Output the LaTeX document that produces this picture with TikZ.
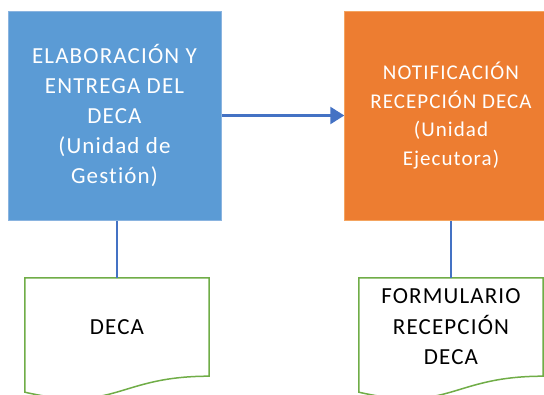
\documentclass[tikz,border=0pt]{standalone}
\usepackage{fontspec}
\setmainfont{Carlito}[Ligatures=CommonOff,LetterSpace=5]
\usepackage{color}
\usepackage{tikz}
\usetikzlibrary{arrows.meta,calc}
\pgfdeclarelayer{edgelayer}
\pgfdeclarelayer{nodelayer}
\pgfsetlayers{edgelayer,nodelayer,main}
\definecolor{hexcolor0x5b9bd5}{rgb}{0.357,0.608,0.835}
\definecolor{hexcolor0x8ab4e0}{rgb}{0.541,0.706,0.878}
\definecolor{hexcolor0xed7d31}{rgb}{0.929,0.490,0.192}
\definecolor{hexcolor0xf4a460}{rgb}{0.957,0.643,0.376}
\definecolor{hexcolor0x4472c4}{rgb}{0.267,0.447,0.769}
\definecolor{hexcolor0x70ad47}{rgb}{0.439,0.678,0.278}
\definecolor{myblack}{rgb}{0.000,0.000,0.000}
\definecolor{mywhite}{rgb}{1.000,1.000,1.000}
\tikzstyle{setA}=[rectangle,fill=hexcolor0x5b9bd5,draw=hexcolor0x8ab4e0,minimum width=213,minimum height=209,text=mywhite,align=center,font=\fontsize{23}{30}\selectfont]
\tikzstyle{setB}=[rectangle,fill=hexcolor0xed7d31,draw=hexcolor0xf4a460,minimum width=213,minimum height=209,text=mywhite,align=center,font=\fontsize{21}{28.5}\selectfont]
\tikzstyle{doc}=[rectangle,minimum width=184,minimum height=98,text=myblack,align=center,font=\fontsize{23}{30.5}\selectfont]
\tikzstyle{docline}=[draw=hexcolor0x70ad47,line width=1.5pt,fill=mywhite]
\tikzstyle{link}=[draw=hexcolor0x4472c4,line width=1.5pt]
\tikzstyle{flow}=[draw=hexcolor0x4472c4,line width=2.5pt,-{Triangle[length=14pt,width=17pt]}]

\begin{document}
\begin{tikzpicture}[x=1pt,y=1pt]
	\useasboundingbox (0,0) rectangle (544,-395);
	%\begin{pgfonlayer}{nodelayer}
		\node [style=setA] (0) at (114.5,-115.5) {ELABORACIÓN Y\\ENTREGA DEL\\DECA\\(Unidad de\\Gestión)};
		\node [style=setB] (1) at (451,-115.5) {NOTIFICACIÓN\\RECEPCIÓN DECA\\(Unidad\\Ejecutora)};
		\node [style=doc] (2) at (117,-327) {DECA};
		\node [style=doc] (3) at (451,-327) {FORMULARIO\\RECEPCIÓN\\DECA};
	%\end{pgfonlayer}
	\begin{pgfonlayer}{edgelayer}
		\draw [style=docline] (2.north west) -- (2.north east) -- (2.south east) .. controls (2.south) and ($(2.south)+(0,-37)$) .. ($(2.south west)+(0,-16)$) -- cycle;
		\draw [style=docline] (3.north west) -- (3.north east) -- (3.south east) .. controls (3.south) and ($(3.south)+(0,-37)$) .. ($(3.south west)+(0,-16)$) -- cycle;
		\draw [style=flow] (0.east) -- (1.west);
		\draw [style=link] (0.south -| 2.north) -- (2.north);
		\draw [style=link] (1.south -| 3.north) -- (3.north);
	\end{pgfonlayer}
\end{tikzpicture}
\end{document}
